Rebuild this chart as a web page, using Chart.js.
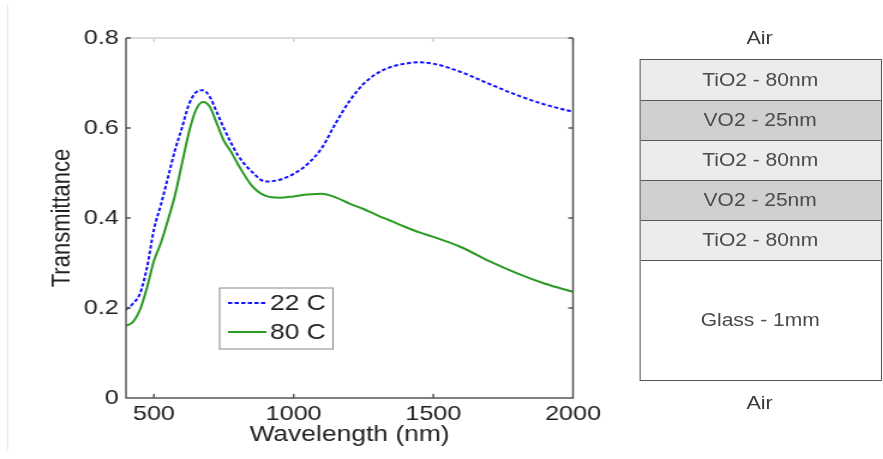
<!DOCTYPE html>
<html>
<head>
<meta charset="utf-8">
<script src="https://cdn.jsdelivr.net/npm/chart.js@4.4.1/dist/chart.umd.min.js"></script>
<style>
  html, body { margin: 0; padding: 0; background: #fff; overflow: hidden; }
  #page {
    position: relative; width: 736px; height: 459px;
    transform: scaleX(1.2); transform-origin: 0 0;
    font-family: "Liberation Sans", Arial, sans-serif;
  }
  #edge { position: absolute; left: 5.5px; top: 5px; width: 0; height: 445px; border-left: 1px solid #e6e6e6; }
  #chart { position: absolute; left: 0; top: 0; }
  #stack { position: absolute; left: 532.5px; top: 59px; width: 200px; border: 1px solid #555; border-bottom-width: 1.5px; }
  .layer { box-sizing: border-box; display: flex; align-items: center; justify-content: center;
    font-size: 17.5px; color: #4a4a4a; border-top: 1.5px solid #555; }
  .layer:first-child { border-top: none; }
  .air { position: absolute; width: 200px; left: 533px; text-align: center; font-size: 18px; color: #3a3a3a; }
</style>
</head>
<body>
<div id="page">
  <div id="edge"></div>
  <canvas id="chart" width="530" height="459"></canvas>
  <div class="air" style="top: 28px;">Air</div>
  <div id="stack"></div>
  <div class="air" style="top: 393px;">Air</div>
</div>
<script>
// wavelength in nm
var wavelengths = [400, 425, 450, 475, 500, 525, 550, 575, 600, 625, 650, 675, 700, 725, 750, 775, 800,
  850, 900, 950, 1000, 1050, 1100, 1150, 1200, 1250, 1300, 1350, 1400, 1450, 1500, 1600, 1700, 1800, 1900, 2000];
var trans22 = [0.196, 0.21, 0.232, 0.29, 0.375, 0.43, 0.49, 0.55, 0.60, 0.652, 0.679, 0.684, 0.669, 0.635, 0.60, 0.568, 0.54,
  0.503, 0.481, 0.485, 0.498, 0.52, 0.555, 0.61, 0.66, 0.698, 0.722, 0.736, 0.743, 0.746, 0.743, 0.724, 0.698, 0.673, 0.652, 0.636];
var trans80 = [0.16, 0.169, 0.196, 0.245, 0.305, 0.345, 0.395, 0.45, 0.52, 0.59, 0.64, 0.658, 0.647, 0.61, 0.572, 0.548, 0.52,
  0.472, 0.449, 0.445, 0.448, 0.452, 0.454, 0.446, 0.432, 0.42, 0.406, 0.393, 0.38, 0.368, 0.358, 0.335, 0.304, 0.277, 0.254, 0.236];
var seriesLabels = ['22 C', '80 C'];
var xTicks = [500, 1000, 1500, 2000];
var yTicks = [0, 0.2, 0.4, 0.6, 0.8];

// film stack, top to bottom
var layerNames = ['TiO2 - 80nm', 'VO2 - 25nm', 'TiO2 - 80nm', 'VO2 - 25nm', 'TiO2 - 80nm', 'Glass - 1mm'];
var layerRows = [1, 1, 1, 1, 1, 3];
var layerColors = ['#ececec', '#d0d0d0', '#ececec', '#d0d0d0', '#ececec', '#ffffff'];

var stack = document.getElementById('stack');
layerNames.forEach((name, i) => {
  var d = document.createElement('div');
  d.className = 'layer';
  d.style.height = (layerRows[i] * 40) + 'px';
  d.style.background = layerColors[i];
  d.textContent = name;
  stack.appendChild(d);
});

function toPoints(ys) {
  return wavelengths.map((x, i) => ({x: x, y: ys[i]}));
}

var framePlugin = {
  id: 'frame',
  afterDatasetsDraw(chart) {
    var ctx = chart.ctx;
    var a = chart.chartArea;
    var xs = chart.scales.x, ys = chart.scales.y;
    ctx.save();
    ctx.lineWidth = 1.5;
    ctx.strokeStyle = '#d0d0d0';
    ctx.beginPath();
    ctx.moveTo(a.left, a.top); ctx.lineTo(a.right, a.top);
    xTicks.forEach(v => { var px = xs.getPixelForValue(v); ctx.moveTo(px, a.top); ctx.lineTo(px, a.top + 4); });
    ctx.stroke();
    ctx.strokeStyle = '#555';
    ctx.beginPath();
    ctx.moveTo(a.left, a.top); ctx.lineTo(a.left, a.bottom); ctx.lineTo(a.right, a.bottom); ctx.lineTo(a.right, a.top);
    xTicks.forEach(v => { var px = xs.getPixelForValue(v); ctx.moveTo(px, a.bottom); ctx.lineTo(px, a.bottom - 4); });
    yTicks.forEach(v => {
      var py = ys.getPixelForValue(v);
      ctx.moveTo(a.left, py); ctx.lineTo(a.left + 4, py);
      ctx.moveTo(a.right, py); ctx.lineTo(a.right - 4, py);
    });
    ctx.stroke();

    // legend box
    var bx = 183, by = 288, bw = 94.5, bh = 61;
    ctx.fillStyle = '#fff';
    ctx.fillRect(bx, by, bw, bh);
    ctx.lineWidth = 1;
    ctx.strokeStyle = '#888';
    ctx.strokeRect(bx, by, bw, bh);
    chart.data.datasets.forEach((ds, i) => {
      var ly = by + 15 + i * 29;
      ctx.strokeStyle = ds.borderColor;
      ctx.lineWidth = ds.borderWidth;
      ctx.setLineDash(ds.borderDash || []);
      ctx.beginPath(); ctx.moveTo(bx + 7, ly); ctx.lineTo(bx + 39, ly); ctx.stroke();
      ctx.setLineDash([]);
      ctx.fillStyle = '#222';
      ctx.font = '22px "Liberation Sans", Arial, sans-serif';
      ctx.textBaseline = 'middle';
      ctx.fillText(ds.label, bx + 42, ly + 1);
    });
    ctx.restore();
  }
};

var tickFont = {family: '"Liberation Sans", Arial, sans-serif', size: 21};
var titleFont = {family: '"Liberation Sans", Arial, sans-serif', size: 22};

new Chart(document.getElementById('chart'), {
  type: 'line',
  data: {
    datasets: [
      {label: seriesLabels[0], data: toPoints(trans22), borderColor: '#1010ff', borderWidth: 2,
        borderDash: [3.5, 2], pointRadius: 0, cubicInterpolationMode: 'monotone', fill: false},
      {label: seriesLabels[1], data: toPoints(trans80), borderColor: '#2a9a22', borderWidth: 2,
        pointRadius: 0, cubicInterpolationMode: 'monotone', fill: false}
    ]
  },
  options: {
    responsive: false,
    animation: false,
    events: [],
    layout: {padding: {top: 38, right: 52.5, left: 0, bottom: 0}},
    plugins: {legend: {display: false}, tooltip: {enabled: false}},
    scales: {
      x: {
        type: 'linear', min: 400, max: 2000,
        afterBuildTicks: s => { s.ticks = xTicks.map(v => ({value: v})); },
        afterFit: s => { s.height = 61; },
        grid: {display: false, drawTicks: false},
        border: {display: false},
        ticks: {font: tickFont, color: '#222', padding: 4, maxRotation: 0, callback: v => String(v)},
        title: {display: true, text: 'Wavelength (nm)', font: titleFont, color: '#222', padding: {top: 0, bottom: 10.8}}
      },
      y: {
        min: 0, max: 0.8,
        afterBuildTicks: s => { s.ticks = yTicks.map(v => ({value: v})); },
        afterFit: s => { s.width = 105; },
        grid: {display: false, drawTicks: false},
        border: {display: false},
        ticks: {font: tickFont, color: '#222', padding: 6, callback: v => String(v)},
        title: {display: true, text: 'Transmittance', font: titleFont, color: '#222', padding: {top: 38.5, bottom: 0}}
      }
    }
  },
  plugins: [framePlugin]
});
</script>
</body>
</html>
